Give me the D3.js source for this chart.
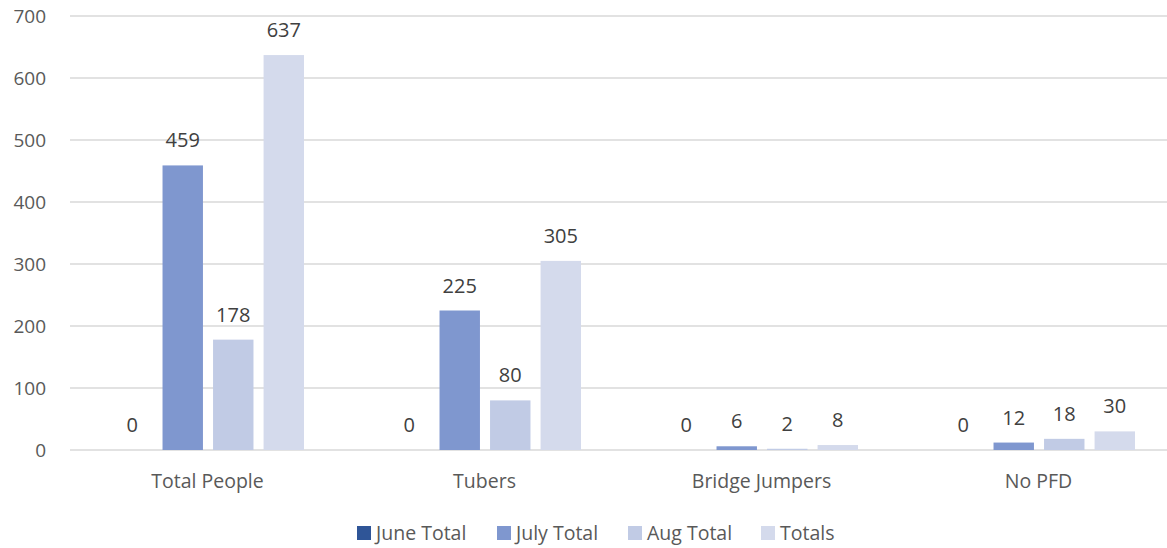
<!DOCTYPE html>
<html>
<head>
<meta charset="utf-8">
<script src="https://cdn.jsdelivr.net/npm/d3@7"></script>
<style>
  body { margin: 0; background: #fff; }
  text { font-family: "Open Sans", sans-serif; }
</style>
</head>
<body>
<script>
var categories = ["Total People", "Tubers", "Bridge Jumpers", "No PFD"];
var seriesNames = ["June Total", "July Total", "Aug Total", "Totals"];
var juneTotal = [0, 0, 0, 0];
var julyTotal = [459, 225, 6, 12];
var augTotal = [178, 80, 2, 18];
var totals = [637, 305, 8, 30];
var yTicks = [0, 100, 200, 300, 400, 500, 600, 700];

var colors = ["#2f5597", "#7f97cf", "#c1cbe5", "#d4daec"];
var seriesValues = [juneTotal, julyTotal, augTotal, totals];

var width = 1167, height = 548;
var margin = {top: 16, right: -11, bottom: 98, left: 70};
var innerW = width - margin.left - margin.right;
var innerH = height - margin.top - margin.bottom;

var svg = d3.select("body").append("svg")
  .attr("width", width)
  .attr("height", height);

var g = svg.append("g")
  .attr("transform", "translate(" + margin.left + "," + margin.top + ")");

var x0 = d3.scaleBand()
  .domain(categories)
  .range([0, innerW])
  .paddingInner(0)
  .paddingOuter(0);

var x1 = d3.scaleBand()
  .domain(seriesNames)
  .range([42, x0.bandwidth() - 43])
  .paddingInner(0.2);

var y = d3.scaleLinear()
  .domain([0, 700])
  .range([innerH, 0]);

// gridlines
g.selectAll(".grid").data(yTicks).enter().append("line")
  .attr("x1", 0).attr("x2", innerW)
  .attr("y1", function(d) { return y(d); })
  .attr("y2", function(d) { return y(d); })
  .attr("stroke", "#d9d9d9")
  .attr("stroke-width", 1.3);

// y tick labels
g.selectAll(".ytick").data(yTicks).enter().append("text")
  .attr("x", -24)
  .attr("y", function(d) { return y(d); })
  .attr("dy", "0.35em")
  .attr("text-anchor", "end")
  .attr("fill", "#595959")
  .style("font-size", "19px")
  .text(function(d) { return d; });

// bars
var rows = categories.map(function(c, i) {
  return seriesNames.map(function(s, j) {
    return {cat: c, series: s, value: seriesValues[j][i], color: colors[j]};
  });
});

var groups = g.selectAll(".cat").data(rows).enter().append("g")
  .attr("transform", function(d, i) { return "translate(" + x0(categories[i]) + ",0)"; });

groups.selectAll("rect").data(function(d) { return d; }).enter().append("rect")
  .attr("x", function(d) { return x1(d.series); })
  .attr("width", x1.bandwidth())
  .attr("y", function(d) { return y(d.value); })
  .attr("height", function(d) { return innerH - y(d.value); })
  .attr("fill", function(d) { return d.color; });

groups.selectAll(".lbl").data(function(d) { return d; }).enter().append("text")
  .attr("x", function(d) { return x1(d.series) + x1.bandwidth() / 2; })
  .attr("y", function(d) { return y(d.value) - 18; })
  .attr("text-anchor", "middle")
  .attr("fill", "#404040")
  .style("font-size", "20px")
  .text(function(d) { return d.value; });

// category labels
g.selectAll(".xlab").data(categories).enter().append("text")
  .attr("x", function(d) { return x0(d) + x0.bandwidth() / 2 - 1; })
  .attr("y", innerH + 38)
  .attr("text-anchor", "middle")
  .attr("fill", "#595959")
  .style("font-size", "19.5px")
  .text(function(d) { return d; });

// legend
var legendX = [357, 497, 628, 761];
var legend = svg.selectAll(".leg").data(seriesNames).enter().append("g")
  .attr("transform", function(d, i) { return "translate(" + legendX[i] + ",526)"; });
legend.append("rect")
  .attr("width", 14).attr("height", 14)
  .attr("fill", function(d, i) { return colors[i]; });
legend.append("text")
  .attr("x", 19).attr("y", 7)
  .attr("dy", "0.35em")
  .attr("fill", "#595959")
  .style("font-size", "19.5px")
  .text(function(d) { return d; });
</script>
</body>
</html>
